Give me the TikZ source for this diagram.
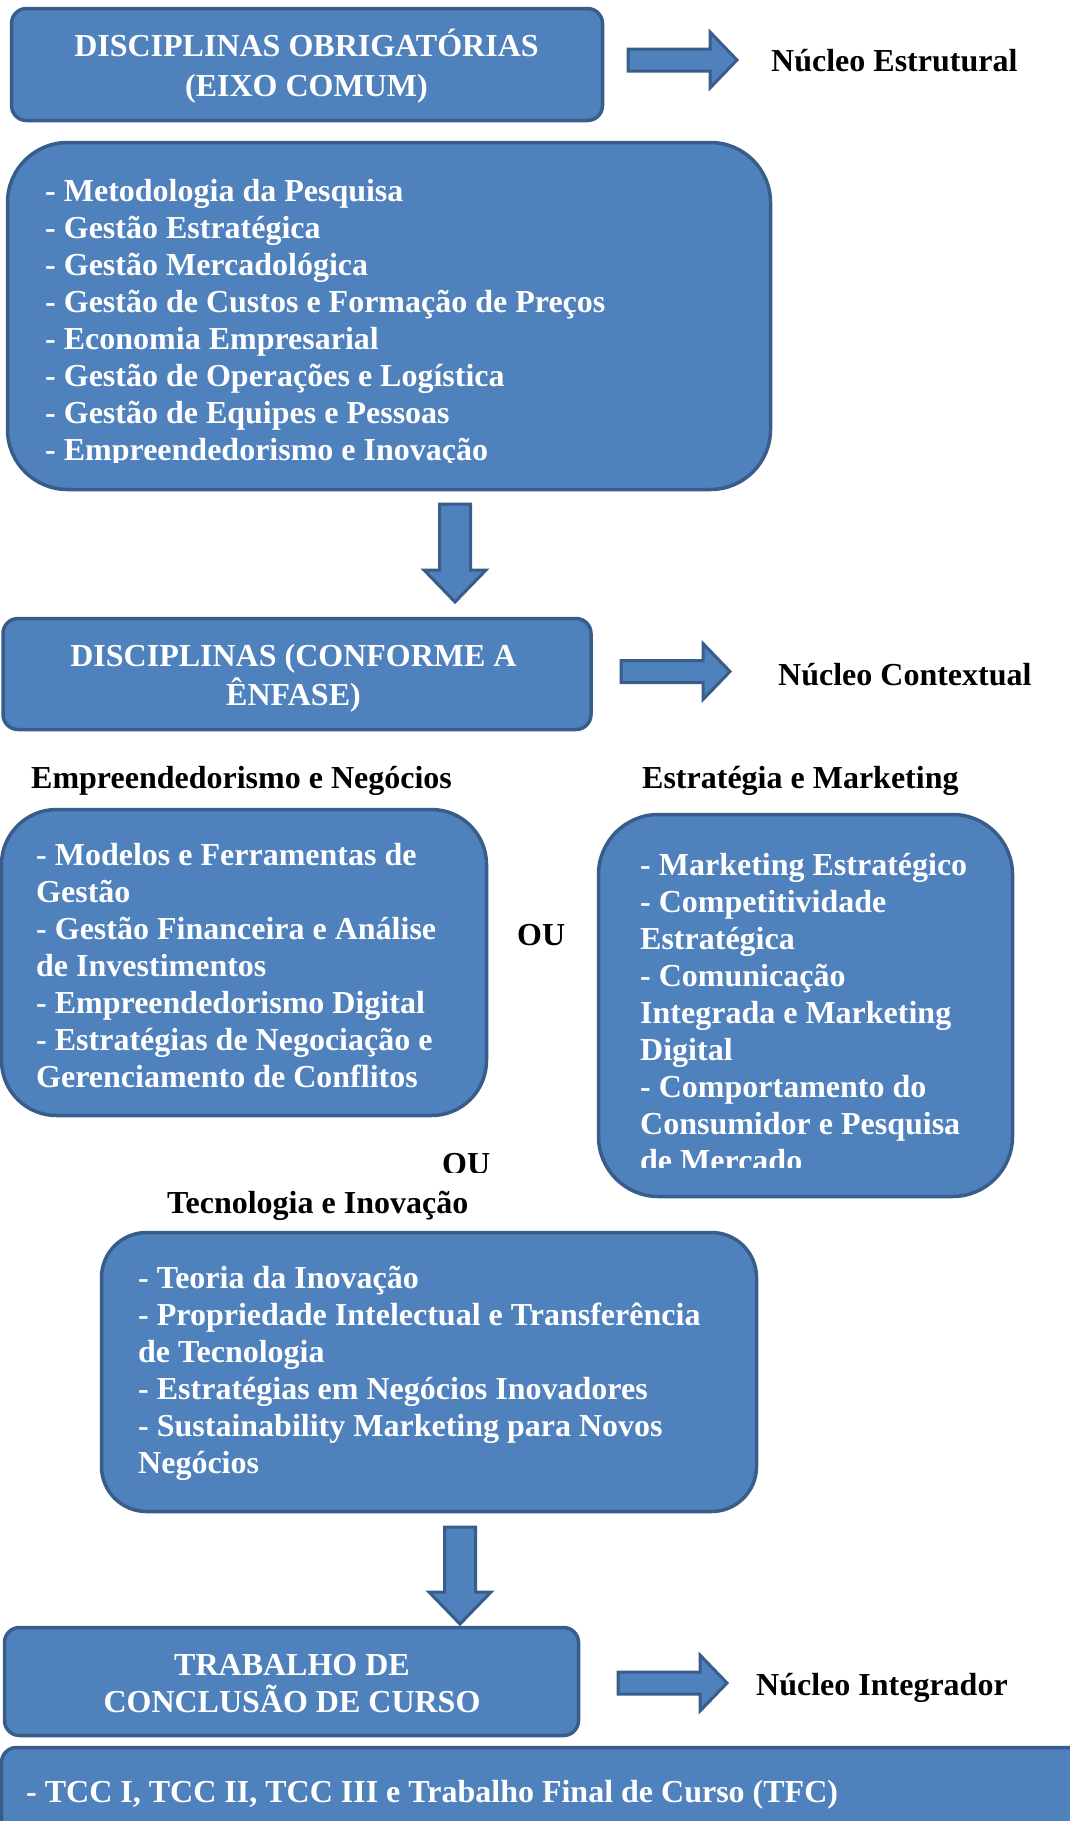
\documentclass[tikz,border=0pt]{standalone}
\usepackage{fontspec}
\setmainfont{Liberation Serif}
\usetikzlibrary{calc}
\definecolor{boxblue}{HTML}{4F81BD}
\definecolor{boxedge}{HTML}{385D8A}
\newcommand{\arrowright}[2]{%
	\draw[blockarrow] let \p1=(#1), \p2=(#2) in
		(\x1,\y1+11pt) -- (\x2-27pt,\y1+11pt) -- (\x2-27pt,\y1+28pt) -- (\x2,\y1)
		-- (\x2-27pt,\y1-28pt) -- (\x2-27pt,\y1-11pt) -- (\x1,\y1-11pt) -- cycle;}
\newcommand{\arrowdown}[2]{%
	\draw[blockarrow] let \p1=(#1), \p2=(#2) in
		(\x1-15.5pt,\y1) -- (\x1+15.5pt,\y1) -- (\x1+15.5pt,\y2+32pt) -- (\x1+31pt,\y2+32pt) -- (\x1,\y2)
		-- (\x1-31pt,\y2+32pt) -- (\x1-15.5pt,\y2+32pt) -- cycle;}
\begin{document}
\begin{tikzpicture}[x=1pt,y=-1pt,
	box/.style={draw=boxedge,fill=boxblue,line width=3.5pt},
	blockarrow/.style={draw=boxedge,fill=boxblue,line width=3pt,line join=miter},
	whitetext/.style={text=white,font=\fontsize{32}{37}\selectfont\bfseries,inner sep=0pt},
	headtext/.style={text=white,font=\fontsize{32}{#1}\selectfont\bfseries,inner sep=0pt,align=center,anchor=base},
	headtext/.default=39,
	blacktext/.style={text=black,font=\fontsize{32}{37}\selectfont\bfseries,inner sep=0pt,anchor=base west},
	listtext/.style={whitetext,anchor=base west,align=left}]
	\clip (0,0) rectangle (1070,1821);
	
	\node[box,rounded corners=15pt,minimum width=591pt,minimum height=112pt] (obrig) at (307,64.5) {};
	\node[headtext=40] (obrigTxt) at (306.5,96) {DISCIPLINAS OBRIGATÓRIAS\\(EIXO COMUM)};
	\node[blacktext] (nucEst) at (771,71) {Núcleo Estrutural};
	\coordinate (a1s) at (628,60);
	\coordinate (a1t) at (737,60);
	\arrowright{a1s}{a1t}
	
	\node[box,rounded corners=60pt,minimum width=763pt,minimum height=347pt] (eixo) at (389,316) {};
	\begin{scope}
		\clip (0,141) rectangle (780,462);
		\node[listtext] (eixoTxt) at (45,460) {- Metodologia da Pesquisa\\- Gestão Estratégica\\- Gestão Mercadológica\\- Gestão de Custos e Formação de Preços\\- Economia Empresarial\\- Gestão de Operações e Logística\\- Gestão de Equipes e Pessoas\\- Empreendedorismo e Inovação};
	\end{scope}
	\coordinate (d1s) at (455,504);
	\coordinate (d1t) at (455,602);
	\arrowdown{d1s}{d1t}
	
	\node[box,rounded corners=15pt,minimum width=588pt,minimum height=111pt] (enfase) at (297,674) {};
	\node[headtext] (enfaseTxt) at (293.5,705) {DISCIPLINAS (CONFORME A\\ÊNFASE)};
	\node[blacktext] (nucCont) at (778,685) {Núcleo Contextual};
	\coordinate (a2s) at (621,671.5);
	\coordinate (a2t) at (730,671.5);
	\arrowright{a2s}{a2t}
	
	\node[blacktext] (empLab) at (31,788) {Empreendedorismo e Negócios};
	\node[blacktext] (estLab) at (642,788) {Estratégia e Marketing};
	
	\node[box,rounded corners=55pt,minimum width=485pt,minimum height=306pt] (emp) at (244,962.5) {};
	\node[listtext] (empTxt) at (36,1087) {- Modelos e Ferramentas de\\Gestão\\- Gestão Financeira e Análise\\de Investimentos\\- Empreendedorismo Digital\\- Estratégias de Negociação e\\Gerenciamento de Conflitos};
	\node[blacktext] (ou1) at (517,945) {OU};
	
	\node[box,rounded corners=60pt,minimum width=414pt,minimum height=382pt] (est) at (805.5,1005.5) {};
	\begin{scope}
		\clip (590,813) rectangle (1020,1167);
		\node[listtext] (estTxt) at (640,1171) {- Marketing Estratégico\\- Competitividade\\Estratégica\\- Comunicação\\Integrada e Marketing\\Digital\\- Comportamento do\\Consumidor e Pesquisa\\de Mercado};
	\end{scope}
	
	\begin{scope}
		\clip (430,1140) rectangle (500,1172);
		\node[blacktext] (ou2) at (442,1174) {OU};
	\end{scope}
	\node[blacktext] (tecLab) at (167,1213) {Tecnologia e Inovação};
	
	\node[box,rounded corners=45pt,minimum width=655pt,minimum height=279pt] (tec) at (429,1372) {};
	\node[listtext] (tecTxt) at (138,1473) {- Teoria da Inovação\\- Propriedade Intelectual e Transferência\\de Tecnologia\\- Estratégias em Negócios Inovadores\\- Sustainability Marketing para Novos\\Negócios};
	\coordinate (d2s) at (460,1527);
	\coordinate (d2t) at (460,1624);
	\arrowdown{d2s}{d2t}
	
	\node[box,rounded corners=15pt,minimum width=574pt,minimum height=108pt] (tcc) at (291.5,1681.5) {};
	\node[headtext=37] (tccTxt) at (292,1712) {TRABALHO DE\\CONCLUSÃO DE CURSO};
	\node[blacktext] (nucInt) at (756,1695) {Núcleo Integrador};
	\coordinate (a3s) at (618,1683);
	\coordinate (a3t) at (727,1683);
	\arrowright{a3s}{a3t}
	
	\node[box,rounded corners=15pt,minimum width=1087pt,minimum height=91pt] (tccList) at (545,1793) {};
	\node[listtext] (tccListTxt) at (26,1802) {- TCC I, TCC II, TCC III e Trabalho Final de Curso (TFC)};
\end{tikzpicture}
\end{document}
